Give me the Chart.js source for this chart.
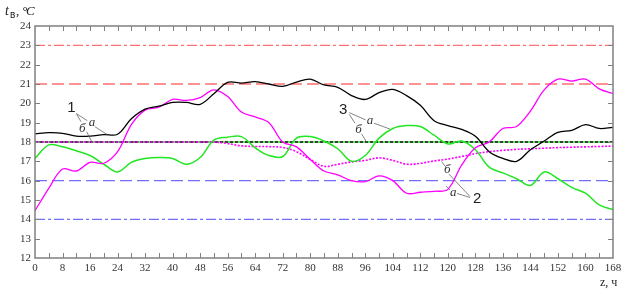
<!DOCTYPE html>
<html><head><meta charset="utf-8">
<script src="https://cdn.jsdelivr.net/npm/chart.js@4.4.0/dist/chart.umd.min.js"></script>
<style>html,body{margin:0;padding:0;background:#fff}#wrap{width:628px;height:291px}</style>
</head><body><div id="wrap"><canvas id="c" width="628" height="291"></canvas></div>
<script>
// ---- data ----
const hours = [0,4,8,12,16,20,24,28,32,36,40,44,48,52,56,60,64,68,72,76,80,84,88,92,96,100,104,108,112,116,120,124,128,132,136,140,144,148,152,156,160,164,168];
const xTickLabels = [0,8,16,24,32,40,48,56,64,72,80,88,96,104,112,120,128,136,144,152,160,168];
const yTickLabels = [12,13,14,15,16,17,18,19,20,21,22,23,24];
const t1a = [18.42,18.48,18.45,18.3,18.3,18.38,18.4,19.2,19.7,19.85,20.05,20.05,19.95,20.5,21.08,21.05,21.12,21.0,20.88,21.1,21.25,20.95,20.83,20.4,20.2,20.55,20.72,20.4,19.9,19.1,18.85,18.65,18.3,17.5,17.15,17.0,17.6,18.05,18.5,18.6,18.9,18.7,18.76];
const t2a = [14.45,15.6,16.6,16.5,16.95,16.9,17.5,18.9,19.65,19.8,20.2,20.15,20.3,20.7,20.35,19.55,19.3,19.0,18.0,17.75,17.1,16.5,16.3,16.0,15.95,16.25,16.0,15.35,15.4,15.45,15.55,16.8,17.7,18.0,18.7,18.8,19.6,20.7,21.25,21.15,21.25,20.75,20.5];
const t3a = [17.15,17.85,17.75,17.55,17.3,16.85,16.45,16.95,17.15,17.2,17.15,16.85,17.2,18.1,18.25,18.28,17.7,17.3,17.25,18.2,18.28,18.05,17.65,17.0,17.3,18.2,18.7,18.85,18.8,18.35,17.9,18.05,17.6,16.7,16.4,16.1,15.75,16.45,16.1,15.65,15.35,14.75,14.5];
const t2b = [18,18,18,18,18,18,18,18,18,18,18,18,18,18,17.92,17.8,17.77,17.76,17.72,17.5,17.1,16.74,16.85,16.97,17.05,17.18,17.05,16.85,16.9,17.02,17.12,17.25,17.4,17.5,17.57,17.62,17.65,17.68,17.71,17.73,17.75,17.77,17.79];
const t1b = 18, t3b = 18;
const refLevels = [23,21,16,14];

const pts = arr => hours.map((h,i)=>({x:h,y:arr[i]}));
const flat = v => [{x:0,y:v},{x:168,y:v}];

const datasets = [
  {data:pts(t1a), borderColor:'#000', borderWidth:1.3, order:1},
  {data:pts(t2a), borderColor:'#ff00ff', borderWidth:1.3, order:2},
  {data:pts(t3a), borderColor:'#22e622', borderWidth:1.5, order:3},
  {data:pts(t2b), borderColor:'#ff00ff', borderWidth:1.6, borderDash:[2,1.5], order:4},
  {data:flat(t1b), borderColor:'#000', borderWidth:1.4, borderDash:[3,2], order:5, tension:0},
  {data:flat(t3b), borderColor:'#22e622', borderWidth:1.4, borderDash:[2,3], borderDashOffset:-3, order:6, tension:0},
  {data:flat(refLevels[0]), borderColor:'#ff7070', borderWidth:1.3, borderDash:[10,3,3,3], order:7, tension:0},
  {data:flat(refLevels[1]), borderColor:'#ff7070', borderWidth:1.3, borderDash:[12,5], order:8, tension:0},
  {data:flat(refLevels[2]), borderColor:'#7070ff', borderWidth:1.3, borderDash:[12,5], order:9, tension:0},
  {data:flat(refLevels[3]), borderColor:'#7070ff', borderWidth:1.3, borderDash:[10,3,3,3], order:10, tension:0}
];

// annotation positions in data units (hour, °C)
const annNums = [{t:'1',x:10.6,y:19.76},{t:'3',x:89.6,y:19.68},{t:'2',x:128.5,y:15.07}];
const annLetters = [
  {t:'а',x:16.6,y:19.0},{t:'б',x:13.75,y:18.71},
  {t:'а',x:97.4,y:19.09},{t:'б',x:94.0,y:18.66},
  {t:'а',x:121.6,y:15.40},{t:'б',x:119.8,y:16.55}
];
const annLines = [
  [11.92,19.48,15.2,19.10],[12.12,19.43,13.37,19.05],[17.44,18.79,20.84,18.40],[15.03,18.53,16.48,18.02],
  [91.35,19.52,96.12,19.14],[91.35,19.43,93.01,18.97],[98.53,18.97,103.18,18.67],[94.96,18.41,96.41,17.99],
  [118.15,16.99,119.17,16.76],[120.33,16.34,126.43,15.18],[119.46,15.72,120.62,15.52],[122.66,15.34,126.43,15.13]
];

const framePlugin = {
  id:'frame',
  afterDatasetsDraw(chart){
    const {ctx, chartArea:a, scales:{x,y}} = chart;
    ctx.save();
    ctx.strokeStyle='#666'; ctx.lineWidth=0.8;
    annLines.forEach(l=>{
      ctx.beginPath();
      ctx.moveTo(x.getPixelForValue(l[0]), y.getPixelForValue(l[1]));
      ctx.lineTo(x.getPixelForValue(l[2]), y.getPixelForValue(l[3]));
      ctx.stroke();
    });
    ctx.fillStyle='#222'; ctx.textAlign='center'; ctx.textBaseline='middle';
    ctx.font='15px "Liberation Sans", Arial, sans-serif';
    annNums.forEach(n=>ctx.fillText(n.t, x.getPixelForValue(n.x), y.getPixelForValue(n.y)));
    ctx.font='italic 13px "Liberation Serif", "Times New Roman", serif';
    ctx.fillStyle='#333';
    annLetters.forEach(n=>ctx.fillText(n.t, x.getPixelForValue(n.x), y.getPixelForValue(n.y)));
    ctx.strokeStyle='#808080'; ctx.lineWidth=1.5;
    ctx.strokeRect(a.left, a.top, a.right-a.left, a.bottom-a.top);
    ctx.lineWidth=1;
    ctx.beginPath();
    for(let h=4; h<168; h+=4){
      const px = Math.round(x.getPixelForValue(h))+0.5;
      ctx.moveTo(px,a.top); ctx.lineTo(px,a.top+5);
      ctx.moveTo(px,a.bottom); ctx.lineTo(px,a.bottom-5);
    }
    for(let v=13; v<24; v++){
      const py = Math.round(y.getPixelForValue(v))+0.5;
      ctx.moveTo(a.left,py); ctx.lineTo(a.left+5,py);
      ctx.moveTo(a.right,py); ctx.lineTo(a.right-5,py);
    }
    ctx.stroke();
    ctx.fillStyle='#222'; ctx.textAlign='left'; ctx.textBaseline='alphabetic';
    ctx.font='italic 14px "Liberation Serif", serif';
    ctx.fillText('t', 5, 15);
    ctx.font='10px "Liberation Sans", sans-serif';
    ctx.fillText('в', 10, 18);
    ctx.font='13px "Liberation Serif", serif';
    ctx.fillText(', °', 16, 15);
    ctx.font='italic 13px "Liberation Serif", serif';
    ctx.fillText('C', 26, 15);
    ctx.font='12px "Liberation Serif", serif';
    ctx.fillText('z, ч', 600, 286);
    ctx.restore();
  }
};

new Chart(document.getElementById('c'), {
  type:'line',
  data:{datasets},
  options:{
    responsive:false, devicePixelRatio:1, animation:false,
    layout:{padding:{top:26,right:15,left:0,bottom:0}},
    elements:{point:{radius:0}, line:{tension:0.35, fill:false}},
    plugins:{legend:{display:false}, tooltip:{enabled:false}},
    scales:{
      x:{type:'linear', min:0, max:168,
        afterBuildTicks:s=>{s.ticks=xTickLabels.map(v=>({value:v}));},
        afterFit:s=>{s.height=33;},
        grid:{display:false, drawTicks:false}, border:{display:false},
        ticks:{font:{family:'"Liberation Serif", serif', size:11}, color:'#333', padding:4, maxRotation:0, autoSkip:false}},
      y:{type:'linear', min:12, max:24,
        afterBuildTicks:s=>{s.ticks=yTickLabels.map(v=>({value:v}));},
        afterFit:s=>{s.width=35;},
        grid:{display:false, drawTicks:false}, border:{display:false},
        ticks:{font:{family:'"Liberation Serif", serif', size:11}, color:'#333', padding:4}}
    }
  },
  plugins:[framePlugin]
});
</script></body></html>
